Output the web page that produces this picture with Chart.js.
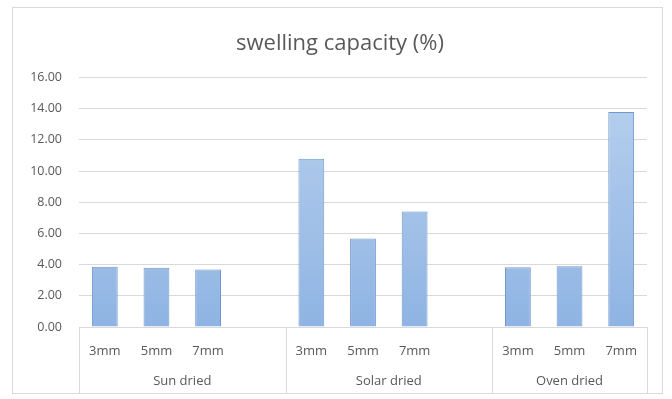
<!DOCTYPE html>
<html>
<head>
<meta charset="utf-8">
<script src="https://cdn.jsdelivr.net/npm/chart.js@4"></script>
<style>
  html, body { margin: 0; padding: 0; background: #ffffff; }
  #wrap { width: 672px; height: 399px; position: relative; }
</style>
</head>
<body>
<div id="wrap"><canvas id="c" width="672" height="399"></canvas></div>
<script>
// ---- data ----
const sizes = ["3mm", "5mm", "7mm"];
const groups = ["Sun dried", "Solar dried", "Oven dried"];
const sunDried = [3.86, 3.80, 3.68];
const solarDried = [10.78, 5.68, 7.41];
const ovenDried = [3.83, 3.89, 13.79];
const yTicks = [0, 2, 4, 6, 8, 10, 12, 14, 16];
const titleText = "swelling capacity (%)";

// build category slots (an empty slot between groups)
const labels = [...sizes, "", ...sizes, "", ...sizes];
const values = [...sunDried, null, ...solarDried, null, ...ovenDried];
const groupRanges = [[0, 3], [4, 7], [8, 10]]; // first..last slot index incl. spacer

const FONT = "Open Sans";
const TXT = "#595959";

const framePlugin = {
  id: 'frame',
  beforeDraw(chart) {
    const ctx = chart.ctx;
    ctx.save();
    ctx.fillStyle = '#ffffff';
    ctx.fillRect(0, 0, chart.width, chart.height);
    ctx.strokeStyle = '#d9d9d9';
    ctx.lineWidth = 1;
    ctx.strokeRect(12.5, 7.5, 650, 386);
    ctx.restore();
  },
  afterDraw(chart) {
    const ctx = chart.ctx;
    const x = chart.scales.x;
    const area = chart.chartArea;
    const half = (x.getPixelForValue(1) - x.getPixelForValue(0)) / 2;
    ctx.save();
    ctx.strokeStyle = '#d9d9d9';
    ctx.lineWidth = 1;
    const bounds = [];
    groupRanges.forEach((r, i) => {
      const l = x.getPixelForValue(r[0]) - half;
      const rr = x.getPixelForValue(r[1]) + half;
      bounds.push(l); if (i === groupRanges.length - 1) bounds.push(rr);
      ctx.fillStyle = TXT;
      ctx.font = "13px '" + FONT + "'";
      ctx.textAlign = 'center';
      ctx.textBaseline = 'middle';
      ctx.fillText(groups[i], (l + rr) / 2, area.bottom + 54);
    });
    bounds.forEach(b => {
      const px = Math.round(b) + 0.5;
      ctx.beginPath();
      ctx.moveTo(px, area.bottom);
      ctx.lineTo(px, 393);
      ctx.stroke();
    });
    ctx.restore();
  }
};

new Chart(document.getElementById('c'), {
  type: 'bar',
  data: {
    labels: labels,
    datasets: [{
      data: values,
      backgroundColor(ctx) {
        const chart = ctx.chart;
        const a = chart.chartArea;
        if (!a) return '#9fc0e6';
        const g = chart.ctx.createLinearGradient(0, a.top, 0, a.bottom);
        g.addColorStop(0, '#b9d1ee');
        g.addColorStop(1, '#8fb4e3');
        return g;
      },
      borderColor: '#6f98cc',
      borderWidth: 1,
      barPercentage: 0.5,
      categoryPercentage: 1.0
    }]
  },
  options: {
    responsive: false,
    animation: false,
    devicePixelRatio: 1,
    layout: { padding: { left: 12, right: 4, top: 0, bottom: 6 } },
    plugins: {
      legend: { display: false },
      tooltip: { enabled: false },
      title: {
        display: true,
        text: titleText,
        color: TXT,
        font: { family: FONT, size: 22, weight: 'normal' },
        padding: { top: 31, bottom: 20 }
      }
    },
    scales: {
      x: {
        offset: true,
        grid: { display: false, drawTicks: false },
        border: { display: true, color: '#d9d9d9' },
        ticks: {
          color: TXT,
          font: { family: FONT, size: 13 },
          padding: 16,
          maxRotation: 0,
          autoSkip: false
        },
        afterFit(scale) { scale.height = 66; }
      },
      y: {
        min: 0, max: 16,
        afterBuildTicks(scale) { scale.ticks = yTicks.map(v => ({ value: v })); },
        grid: { color: '#d9d9d9', drawTicks: false },
        border: { display: false },
        ticks: {
          color: TXT,
          font: { family: FONT, size: 12.5 },
          padding: 17,
          callback: v => Number(v).toFixed(2)
        },
        afterFit(scale) { scale.width = 67; }
      },
      yRightSpace: {
        position: 'right',
        display: true,
        min: 0, max: 16,
        grid: { display: false, drawOnChartArea: false },
        border: { display: false },
        ticks: { display: false },
        afterFit(scale) { scale.width = 21; }
      }
    }
  },
  plugins: [framePlugin]
});
</script>
</body>
</html>
